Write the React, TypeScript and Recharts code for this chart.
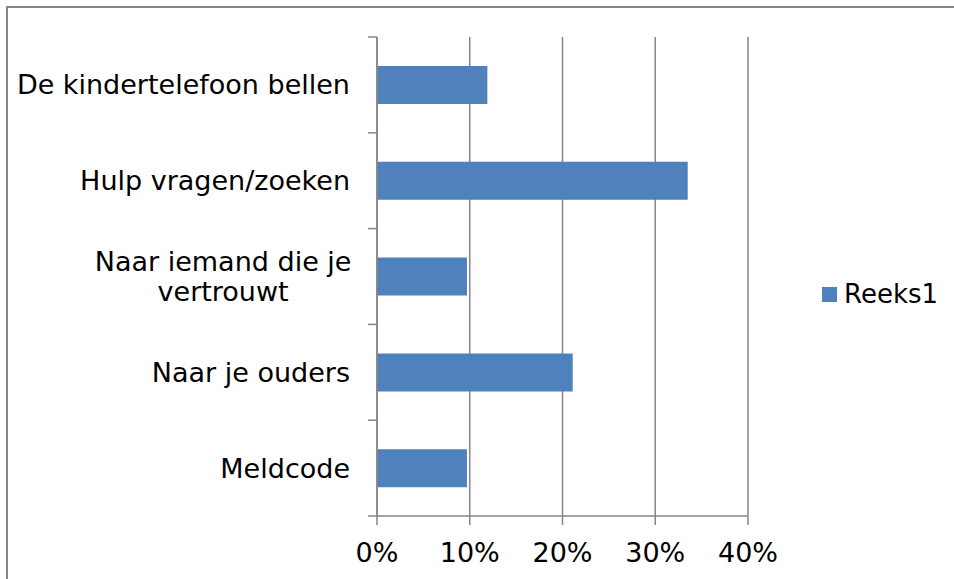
import React from "react"
import { BarChart, Bar, XAxis, YAxis, CartesianGrid } from "recharts"

const categories = [
  "De kindertelefoon bellen",
  "Hulp vragen/zoeken",
  "Naar iemand die je vertrouwt",
  "Naar je ouders",
  "Meldcode",
]
const reeks1 = [0.119, 0.335, 0.097, 0.211, 0.097]
const xTicks = [0, 0.1, 0.2, 0.3, 0.4]
const seriesName = "Reeks1"

const data = categories.map((name, i) => ({ name, Reeks1: reeks1[i] }))

const W = 954
const H = 579
const TOP = 37
const BOTTOM = 63
const AXIS_X = 377
const RIGHT = 206
const BAND = (H - TOP - BOTTOM) / categories.length
const GRAY = "#868686"
const BLUE = "#4F81BD"
const FONT = "'DejaVu Sans', Verdana, sans-serif"
const FS = 27

// split long labels into lines of max 24 chars
function wrap(text: string, max = 24) {
  const words = text.split(" ")
  const lines: string[] = []
  let cur = ""
  for (const w of words) {
    if (cur && (cur + " " + w).length > max) {
      lines.push(cur)
      cur = w
    } else {
      cur = cur ? cur + " " + w : w
    }
  }
  if (cur) lines.push(cur)
  return lines
}

const CategoryTick = (props: any) => {
  const { y, payload, index } = props
  const lines = wrap(String(payload.value))
  const right = AXIS_X - 27
  const lh = 30
  const maxLen = Math.max(...lines.map((l) => l.length))
  const cx = right - (maxLen * 14.1) / 2
  return (
    <g>
      <line x1={AXIS_X - 9} x2={AXIS_X} y1={y - BAND / 2} y2={y - BAND / 2} stroke={GRAY} strokeWidth={1.5} />
      {index === categories.length - 1 && (
        <line x1={AXIS_X - 9} x2={AXIS_X} y1={y + BAND / 2} y2={y + BAND / 2} stroke={GRAY} strokeWidth={1.5} />
      )}
      {lines.map((l, i) => (
        <text
          key={i}
          x={lines.length > 1 ? cx : right}
          y={y + (i - (lines.length - 1) / 2) * lh}
          textAnchor={lines.length > 1 ? "middle" : "end"}
          dominantBaseline="central"
          fontSize={FS}
          fontFamily={FONT}
          fill="#000"
        >
          {l}
        </text>
      ))}
    </g>
  )
}

export default function App() {
  return (
    <div style={{ position: "fixed", left: 0, top: 0, width: W, height: H, background: "#fff" }}>
      <div
        style={{
          position: "absolute",
          left: 6,
          top: 6,
          width: W - 6,
          height: H - 6,
          borderTop: `2px solid ${GRAY}`,
          borderLeft: `2px solid ${GRAY}`,
          boxSizing: "border-box",
        }}
      />
      <div style={{ position: "absolute", left: 0, top: 0 }}>
        <BarChart
          width={W}
          height={H}
          data={data}
          layout="vertical"
          margin={{ top: TOP, bottom: 0, left: 0, right: RIGHT }}
          barSize={38}
        >
          <CartesianGrid horizontal={false} stroke={GRAY} strokeWidth={1.5} />
          <XAxis
            type="number"
            domain={[0, 0.4]}
            ticks={xTicks}
            tickFormatter={(v) => `${Math.round(v * 100)}%`}
            stroke={GRAY}
            strokeWidth={1.5}
            height={BOTTOM}
            tickSize={9}
            tickMargin={18}
            tick={{ fill: "#000", fontSize: FS, fontFamily: FONT }}
            interval={0}
          />
          <YAxis
            type="category"
            dataKey="name"
            width={AXIS_X}
            stroke={GRAY}
            strokeWidth={1.5}
            tickLine={false}
            tick={<CategoryTick />}
            interval={0}
          />
          <Bar dataKey="Reeks1" name={seriesName} fill={BLUE} isAnimationActive={false} />
        </BarChart>
      </div>
      <div
        style={{
          position: "absolute",
          left: 822,
          top: 279,
          display: "flex",
          alignItems: "center",
          fontFamily: FONT,
          fontSize: 26,
          color: "#000",
        }}
      >
        <span style={{ width: 15, height: 15, background: BLUE, display: "inline-block", marginRight: 7 }} />
        <span>{seriesName}</span>
      </div>
    </div>
  )
}
